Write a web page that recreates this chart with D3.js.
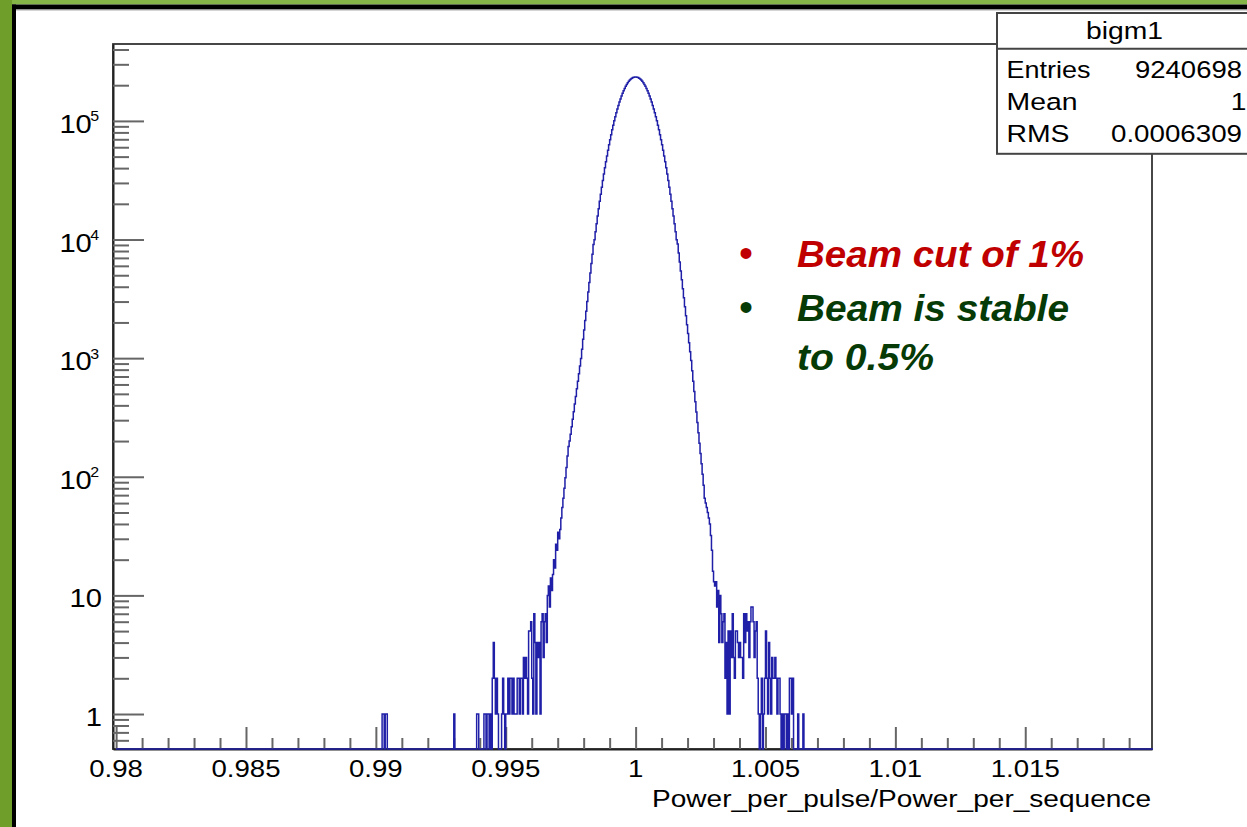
<!DOCTYPE html>
<html>
<head>
<meta charset="utf-8">
<script src="https://cdn.jsdelivr.net/npm/d3@7"></script>
<style>
  body { margin: 0; background: #fff; }
  svg { display: block; }
  text { font-family: "Liberation Sans", Arial, Helvetica, sans-serif; }
</style>
</head>
<body>
<svg id="c" width="1247" height="827"></svg>
<script>
// ---------------- DATA ----------------
const histTitle = "bigm1";
const statLabels = ["Entries", "Mean", "RMS"];
const statValues = ["9240698", "1", "0.0006309"];
const xTickValues = [0.98, 0.985, 0.99, 0.995, 1, 1.005, 1.01, 1.015];
const xTickLabels = ["0.98", "0.985", "0.99", "0.995", "1", "1.005", "1.01", "1.015"];
const yTickValues = [1, 10, 100, 1000, 10000, 100000];
const yTickBase = ["1", "10", "10", "10", "10", "10"];
const yTickExp = ["", "", "2", "3", "4", "5"];
const xTitle = "Power_per_pulse/Power_per_sequence";
const noteLines = ["Beam cut of 1%", "Beam is stable", "to 0.5%"];
const noteBullets = [true, true, false];
const noteColors = ["#c00000", "#063a06", "#063a06"];

// histogram binning (0.98 .. 1.02, 1000 bins)
const binLow = 0.98, binWidth = 0.00004, nBins = 1000;
// isolated far-left entries
const outlierX = [0.99024, 0.99028, 0.99036, 0.99040, 0.99300];
const outlierCounts = [1, 1, 1, 1, 1];
// contiguous bin contents starting at denseStartX
const denseStartX = 0.99380;
const denseCounts = [
  0,0,1,1,0,0,0,0,0,1,
  1,0,1,1,0,1,0,2,4,2,
  1,2,1,0,0,0,1,2,1,0,
  1,1,2,1,2,2,1,2,1,1,
  1,2,2,1,2,2,1,3,2,3,
  2,1,5,5,6,2,1,7,4,1,
  4,3,4,1,6,7,3,6,7,4,
  10,12,8,14,11,15,20,17,27,24,
  34,30,36,45,55,66,80,98,120,150,
  180,200,228,264,305,354,410,475,551,638,
  740,857,993,1190,1440,1730,2080,2490,3000,3610,
  4340,5210,6270,7530,9060,9940,11630,13570,15760,18200,
  21000,24100,27600,31400,35600,40200,45200,50600,56500,62800,
  69500,76600,84100,91900,100100,108500,117200,126100,135100,144200,
  153200,162200,171000,179500,187700,195500,202800,209500,215600,220800,
  225500,229200,232000,233900,235000,235000,233900,232000,229200,225500,
  220800,215600,209500,202800,195500,187700,179500,171000,162200,153200,
  144200,135100,126100,117200,108500,100100,91900,84100,76600,69500,
  62800,56500,50600,45200,40200,35600,31400,27600,24100,21000,
  18200,15760,13570,11630,9940,9160,7700,6470,5430,4570,
  3840,3230,2710,2280,1910,1610,1350,1135,955,782,
  640,524,429,351,287,235,192,157,129,105,
  85,66,60,55,50,45,40,32,24,16,
  13,12,13,8,11,4,10,7,4,6,
  7,2,4,1,5,1,5,3,7,3,
  2,5,5,4,3,4,3,3,2,7,
  4,7,5,6,3,6,8,8,6,3,
  5,6,2,1,0,1,2,0,1,2,
  5,2,1,4,2,1,3,2,2,3,
  2,1,2,2,1,0,1,0,1,1,
  0,1,0,2,2,1,2,0,0,0,
  0,1,0,0,0,0,1,0
];

// ---------------- BUILD HISTOGRAM ----------------
const counts = new Array(nBins).fill(0);
outlierX.forEach((v, k) => { counts[Math.round((v - binLow) / binWidth)] = outlierCounts[k]; });
const s0 = Math.round((denseStartX - binLow) / binWidth);
denseCounts.forEach((c, k) => { counts[s0 + k] = c; });

// ---------------- LAYOUT ----------------
const W = 1247, H = 827;
const L = 113, R = 1152, T = 44, B = 749;
const svg = d3.select("#c");

svg.append("rect").attr("width", W).attr("height", H).attr("fill", "#fff");
// slide border
svg.append("rect").attr("x", 0).attr("y", 0).attr("width", W).attr("height", 4.5).attr("fill", "#86b648");
svg.append("rect").attr("x", 0).attr("y", 0).attr("width", 12).attr("height", H).attr("fill", "#6f9f2a");
svg.append("rect").attr("x", 12).attr("y", 4.5).attr("width", W - 12).attr("height", 5).attr("fill", "#000");
svg.append("rect").attr("x", 12).attr("y", 4.5).attr("width", 4).attr("height", H).attr("fill", "#000");
svg.append("line").attr("x1", 16).attr("x2", W).attr("y1", 10).attr("y2", 10).attr("stroke", "#aaa").attr("stroke-width", 1);

const x = d3.scaleLinear().domain([0.97988, 1.01988]).range([L, R]);
const y = d3.scaleLog().domain([0.507, 4.45e5]).range([B, T]);

// frame
svg.append("rect").attr("x", L).attr("y", T).attr("width", R - L).attr("height", B - T)
  .attr("fill", "none").attr("stroke", "#333").attr("stroke-width", 1.8);

// x axis (ticks pointing up)
const isMajorX = d => Math.abs(d * 200 - Math.round(d * 200)) < 1e-6;
const xg = svg.append("g").attr("transform", `translate(0,${B})`)
  .call(d3.axisBottom(x).tickValues(x.ticks(40)).tickSize(-11).tickSizeOuter(0).tickFormat(""));
xg.select(".domain").attr("stroke", "#222").attr("stroke-width", 2);
xg.selectAll(".tick line").attr("stroke", "#666").attr("stroke-width", 2)
  .attr("y2", d => isMajorX(d) ? -22 : -11);

// y axis (ticks pointing right)
const isMajorY = d => Math.abs(Math.log10(d) - Math.round(Math.log10(d))) < 1e-9;
const yg = svg.append("g").attr("transform", `translate(${L},0)`)
  .call(d3.axisLeft(y).tickValues(y.ticks()).tickSize(-16).tickSizeOuter(0).tickFormat(""));
yg.select(".domain").attr("stroke", "#222").attr("stroke-width", 2);
yg.selectAll(".tick line").attr("stroke", "#666").attr("stroke-width", 2)
  .attr("x2", d => isMajorY(d) ? 31 : 16);

// histogram
svg.append("defs").append("clipPath").attr("id", "plotclip")
  .append("rect").attr("x", L - 1).attr("y", T).attr("width", R - L + 2).attr("height", B - T + 2);
const pts = counts.map((c, i) => [x(binLow + i * binWidth), c > 0 ? y(c) : B]);
pts.push([x(binLow + nBins * binWidth), counts[nBins - 1] > 0 ? y(counts[nBins - 1]) : B]);
svg.append("path")
  .attr("clip-path", "url(#plotclip)")
  .attr("d", d3.line().curve(d3.curveStepAfter)(pts))
  .attr("fill", "none").attr("stroke", "#1f1fa8").attr("stroke-width", 1.5)
  .attr("stroke-linejoin", "miter");

// helpers
function fitText(str, opt) {
  const w = opt.width;
  const x0 = opt.anchor === "end" ? opt.x - w : opt.anchor === "middle" ? opt.x - w / 2 : opt.x;
  return svg.append("text").attr("x", x0).attr("y", opt.y)
    .attr("font-size", opt.size).attr("fill", opt.fill || "#000")
    .attr("textLength", w).attr("lengthAdjust", "spacingAndGlyphs")
    .text(str);
}
function scaledText(str, px, py, size, anchor, sx) {
  return svg.append("text")
    .attr("transform", `translate(${px},${py}) scale(${sx},1)`)
    .attr("text-anchor", anchor).attr("font-size", size).attr("fill", "#000")
    .text(str);
}

// x tick labels
xTickValues.forEach((v, k) => scaledText(xTickLabels[k], x(v), 777.3, 24, "middle", 1.15));
// x title
fitText(xTitle, { x: 1151, y: 806.5, anchor: "end", width: 499, size: 23.5 });

// y tick labels
yTickValues.forEach((v, k) => {
  const ty = y(v);
  if (yTickExp[k] === "") {
    scaledText(yTickBase[k], 102, ty + 12, 26.5, "end", 1.1);
  } else {
    scaledText(yTickBase[k], 91.8, ty + 12, 26.5, "end", 1.1);
    scaledText(yTickExp[k], 90.2, ty + 0.5, 14.5, "start", 1.1);
  }
});

// stats box
const bx = 997, by = 13, bsep = 48.7, bb = 153.8;
svg.append("rect").attr("x", bx).attr("y", by).attr("width", 300).attr("height", bb - by)
  .attr("fill", "#fff").attr("stroke", "#444").attr("stroke-width", 2);
svg.append("line").attr("x1", bx).attr("x2", W).attr("y1", bsep).attr("y2", bsep)
  .attr("stroke", "#444").attr("stroke-width", 2);
fitText(histTitle, { x: 1124.5, y: 39.3, anchor: "middle", width: 77, size: 23.5 });
const rowY = [77.5, 110, 142];
const labW = [84, 71, 63];
statLabels.forEach((s, k) => fitText(s, { x: 1006.5, y: rowY[k], anchor: "start", width: labW[k], size: 24.5 }));
fitText(statValues[0], { x: 1242, y: rowY[0], anchor: "end", width: 107, size: 24.5 });
scaledText(statValues[1], 1246.5, rowY[1], 24.5, "end", 1.15);
fitText(statValues[2], { x: 1242, y: rowY[2], anchor: "end", width: 131, size: 24.5 });

// annotation notes
const noteY = [266.7, 320.5, 370];
const noteW = [287, 272, 137];
noteLines.forEach((s, k) => {
  if (noteBullets[k]) {
    svg.append("text").attr("x", 746).attr("y", noteY[k]).attr("text-anchor", "middle")
      .attr("font-size", 40).attr("fill", noteColors[k]).text("\u2022");
  }
  fitText(s, { x: 797, y: noteY[k], anchor: "start", width: noteW[k], size: 36, fill: noteColors[k] })
    .attr("font-family", "'DejaVu Sans', Verdana, sans-serif")
    .attr("font-weight", "bold").attr("font-style", "italic");
});
</script>
</body>
</html>
